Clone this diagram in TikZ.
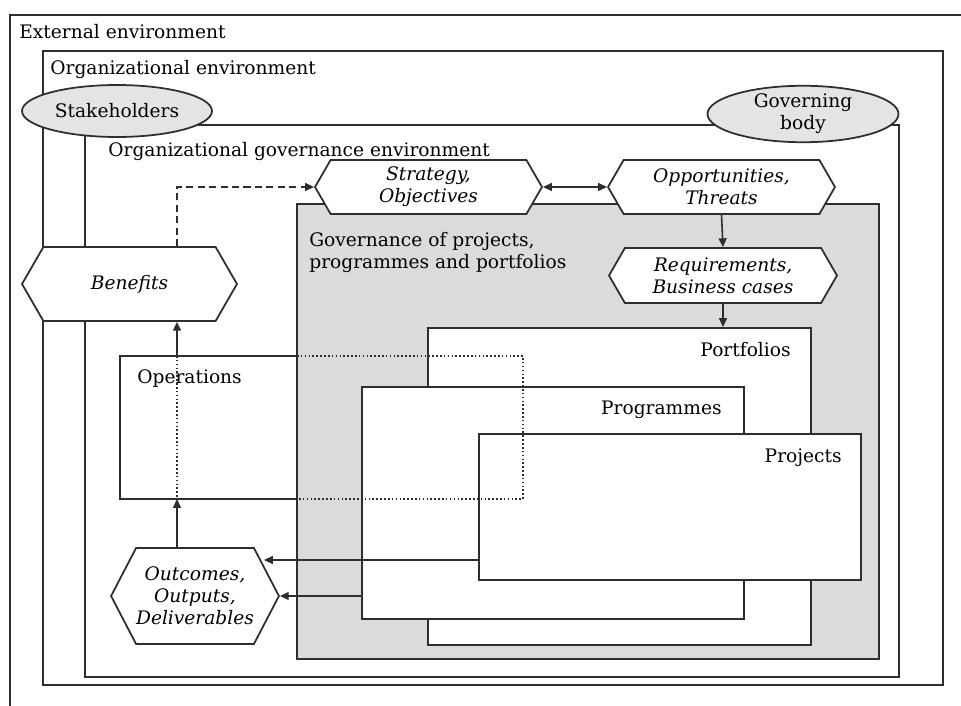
\documentclass[tikz,border=0pt]{standalone}
\usepackage{fontspec}
\setmainfont{DejaVu Serif}
\usepackage{tikz}
\usetikzlibrary{arrows.meta, positioning, shapes.geometric, shapes.symbols}

\definecolor{govgray}{HTML}{DADBDD}
\definecolor{partygray}{HTML}{E6E4E2}
\definecolor{ink}{HTML}{2E2E2E}
\newcommand{\diagfont}{\fontsize{10.6pt}{12.5pt}\selectfont}

\begin{document}
\begin{tikzpicture}[x=0.02cm, y=-0.02cm, font=\diagfont,
  env/.style={draw=ink, line width=1pt},
  hexa/.style={signal, signal to=west and east, signal pointer angle=120,
    draw=ink, line width=1pt, fill=white, font=\diagfont\itshape,
    align=center, inner sep=0pt},
  party/.style={ellipse, draw=ink, line width=1pt, fill=partygray,
    minimum width=3.8cm, minimum height=1.04cm, inner sep=0pt, align=center},
  wbox/.style={draw=ink, line width=1pt, fill=white, inner sep=0pt, anchor=north west},
  lbl/.style={inner sep=0pt, anchor=base west},
  rlbl/.style={inner sep=0pt, anchor=base east},
  hidden/.style={draw=ink, line width=0.9pt, dash pattern=on 0.9pt off 1.3pt},
  arr/.style={-{Triangle[length=5pt,width=4.5pt]}, draw=ink, line width=0.9pt}]
\useasboundingbox (0,0) rectangle (961,706);

% External environment (open to the right and bottom)
\draw[env] (961,15) -- (10,15) -- (10,706);
\node[lbl] (extlbl) at (19,39) {External environment};

% Organizational environment
\draw[env] (43,51) rectangle (943,685);
\node[lbl] (orglbl) at (50,75) {Organizational environment};

% Organizational governance environment
\draw[env] (85,125) rectangle (899,677);
\node[lbl] (govlbl) at (108,157) {Organizational governance environment};

% Parties
\node[party] (stake) at (117,111) {Stakeholders};
\node[party, minimum width=3.82cm, minimum height=1.06cm] (gbody) at (803,114) {Governing\\body};

% Governance of projects, programmes and portfolios
\draw[env, fill=govgray] (297,204) rectangle (879,659);
\node[lbl, align=left, anchor=north west] (pppl) at (309,232) {Governance of projects,\\programmes and portfolios};

% Operations (solid part)
\draw[env] (297,356) -- (120,356) -- (120,499) -- (297,499);
\node[lbl] (opslbl) at (137,383) {Operations};
\coordinate (opsN) at (177,356);
\coordinate (opsS) at (177,499);

% Portfolios, programmes, projects
\node[wbox, minimum width=7.66cm, minimum height=6.34cm] (port) at (427,327) {};
\node[rlbl] at (791,356) {Portfolios};
\node[wbox, minimum width=7.64cm, minimum height=4.64cm] (prog) at (361,386) {};
\node[rlbl] at (722,414) {Programmes};
\node[wbox, minimum width=7.64cm, minimum height=2.92cm] (proj) at (478,433) {};
\node[rlbl] at (842,462) {Projects};

% Operations (hidden part)
\draw[hidden] (297,356) -- (523,356) -- (523,499) -- (297,499);
\draw[hidden] (opsN) -- (opsS);

% Hexagons
\node[hexa, minimum width=4.54cm, minimum height=1.08cm] (strat) at (428.5,187) {Strategy,\\Objectives};
\node[hexa, minimum width=4.54cm, minimum height=1.08cm] (opp) at (721.5,187) {Opportunities,\\Threats};
\node[hexa, minimum width=4.56cm, minimum height=1.10cm] (req) at (723,275.5) {Requirements,\\Business cases};
\node[hexa, minimum width=4.30cm, minimum height=1.48cm] (ben) at (129.5,284) {Benefits};
\node[hexa, signal pointer angle=125, minimum width=3.32cm, minimum height=1.92cm] (outc) at (195,596) {Outcomes,\\Outputs,\\Deliverables};
\coordinate (outtip) at (264,560);

% Connectors
\draw[arr, {Triangle[length=5pt,width=4.5pt]}-{Triangle[length=5pt,width=4.5pt]}] (strat.east) -- (opp.west);
\draw[arr] (opp.south) -- (req.north);
\draw[arr] (req.south) -- (req.south |- port.north);
\draw[arr, dash pattern=on 4pt off 2.5pt] (opsN |- ben.north) |- (strat.west);
\draw[arr] (opsN) -- (opsN |- ben.south);
\draw[arr] (opsS |- outc.north) -- (opsS);
\draw[arr] (proj.west |- outtip) -- (outtip);
\draw[arr] (prog.west |- outc.east) -- (outc.east);

\end{tikzpicture}
\end{document}
